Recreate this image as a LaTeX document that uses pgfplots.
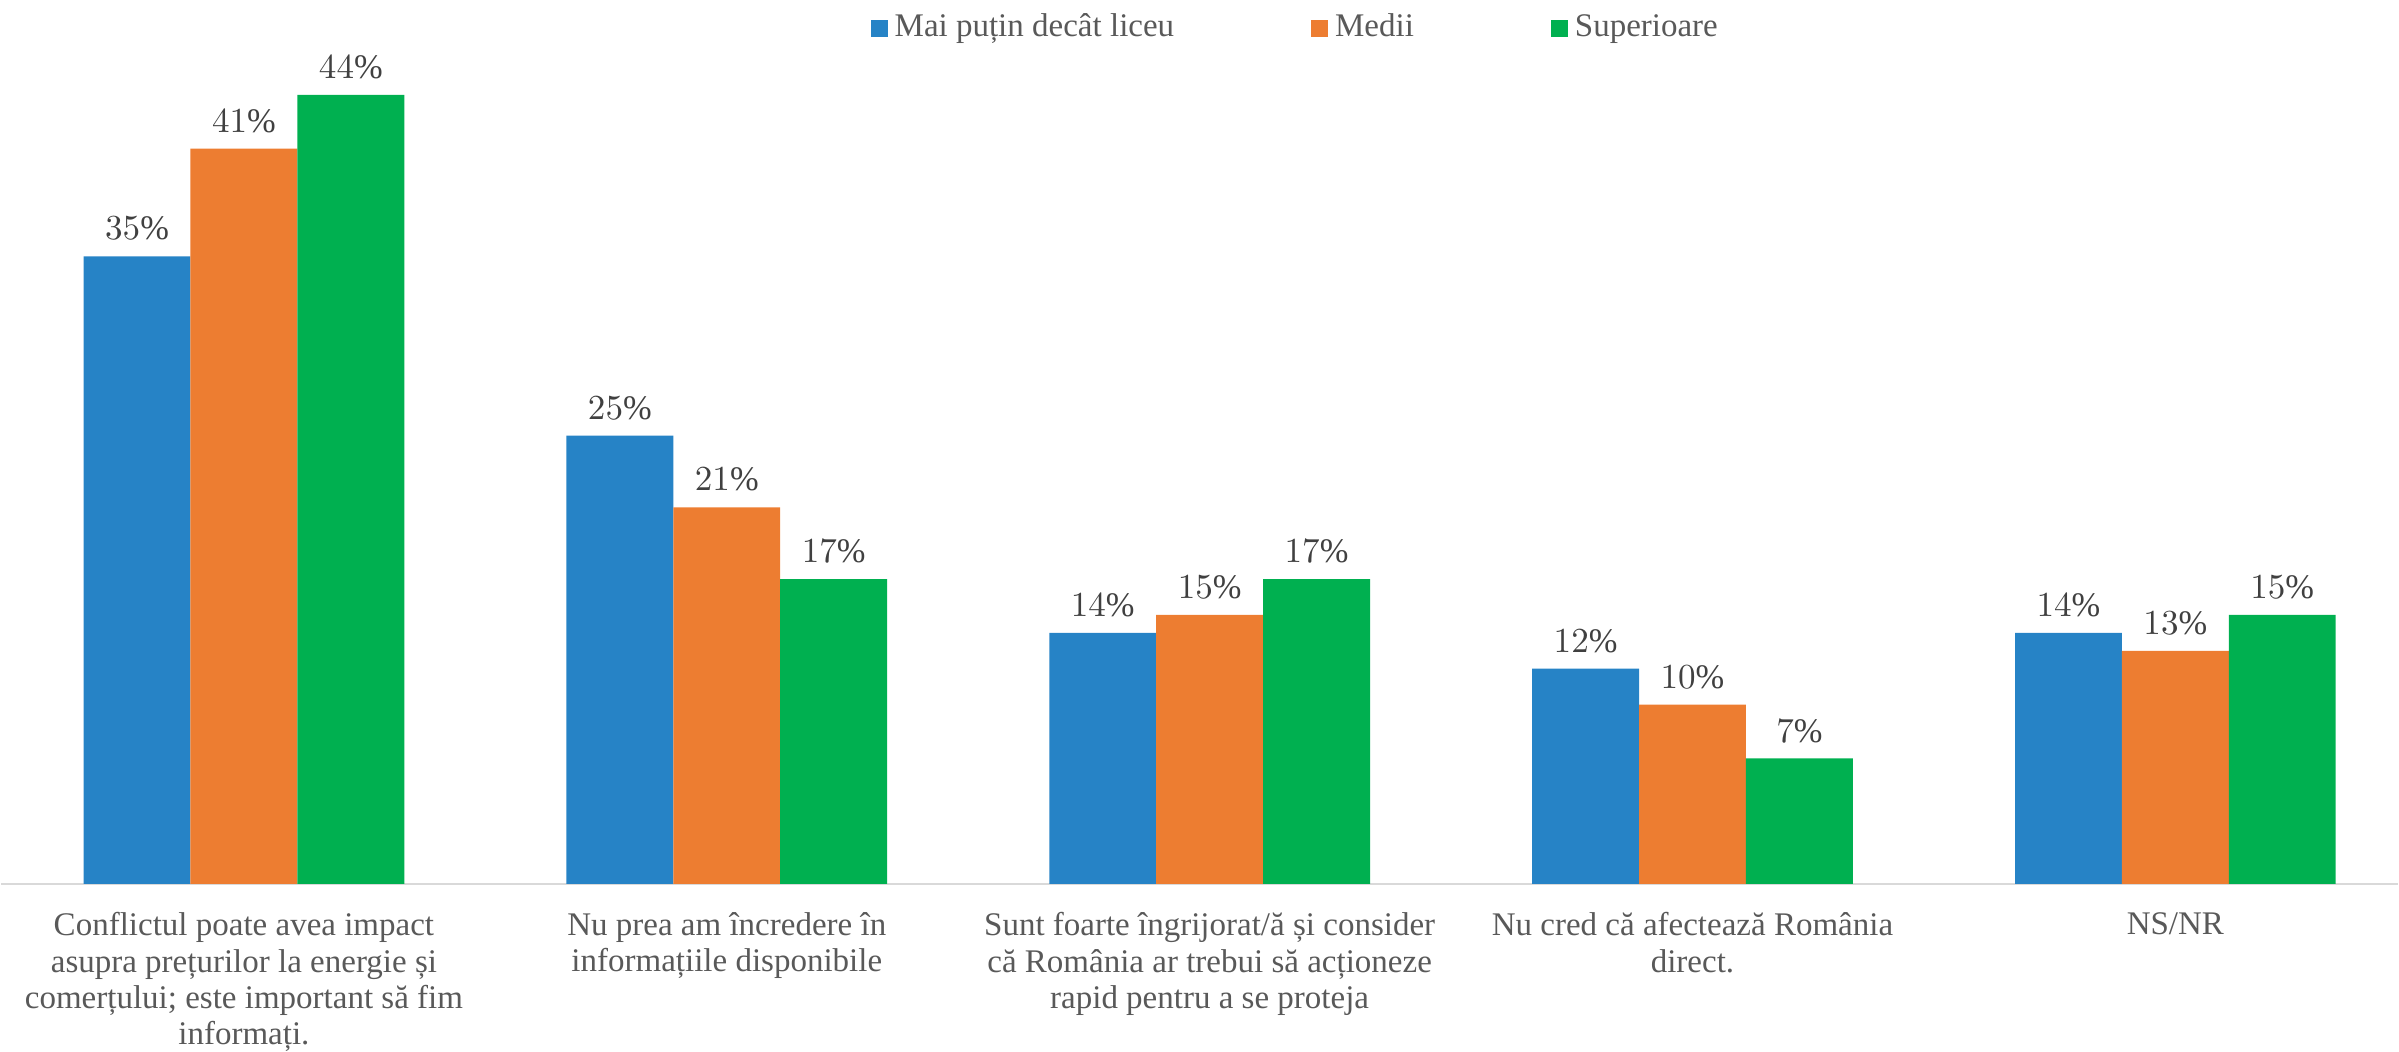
\documentclass[border=0pt]{standalone}
\usepackage{fontspec}
\setmainfont{Liberation Serif}
\usepackage{pgfplots}
\pgfplotsset{compat=1.18}
\definecolor{cblue}{HTML}{2683C6}
\definecolor{corange}{HTML}{ED7D31}
\definecolor{cgreen}{HTML}{00B050}
\definecolor{axisgray}{HTML}{D9D9D9}
\definecolor{labelgray}{HTML}{595959}
\definecolor{datagray}{HTML}{404040}

\begin{document}
\begin{tikzpicture}
\begin{axis}[
  scale only axis,
  width=23.99cm, height=8.83cm,
  ybar=0pt, bar width=0.2214,
  xmin=-0.503, xmax=4.461, ymin=0, ymax=49.2,
  enlargelimits=false,
  axis y line=none,
  axis x line*=bottom,
  x axis line style={-, draw=axisgray, line width=0.6pt},
  xtick={0,1,2,3,4},
  xticklabels={
    {Conflictul poate avea impact\\asupra prețurilor la energie și\\comerțului; este important să fim\\informați.},
    {Nu prea am încredere în\\informațiile disponibile},
    {Sunt foarte îngrijorat/ă și consider\\că România ar trebui să acționeze\\rapid pentru a se proteja},
    {Nu cred că afectează România\\direct.},
    {NS/NR}},
  major tick length=0pt,
  xticklabel style={font=\fontsize{9.4}{10.3}\selectfont, align=center, text=labelgray,
    anchor=north, inner sep=0pt, yshift=-8pt},
  ytick=\empty,
  nodes near coords={\pgfmathprintnumber{\pgfplotspointmeta}\%},
  every node near coord/.append style={font=\fontsize{9.8}{11}\selectfont, text=datagray, yshift=1pt},
  legend style={at={(0.541,0.970)}, anchor=center, draw=none, fill=none,
    legend columns=3, font=\fontsize{9.4}{11}\selectfont, text=labelgray,
    /tikz/every even column/.append style={column sep=1.3cm}},
  legend image code/.code={\fill (0cm,-0.085cm) rectangle (0.17cm,0.085cm);},
]
\addplot[fill=cblue, draw=none] coordinates {(0,35) (1,25) (2,14) (3,12) (4,14)};
\addplot[fill=corange, draw=none] coordinates {(0,41) (1,21) (2,15) (3,10) (4,13)};
\addplot[fill=cgreen, draw=none] coordinates {(0,44) (1,17) (2,17) (3,7) (4,15)};
\legend{Mai puțin decât liceu, Medii, Superioare}
\end{axis}
\end{tikzpicture}
\end{document}
